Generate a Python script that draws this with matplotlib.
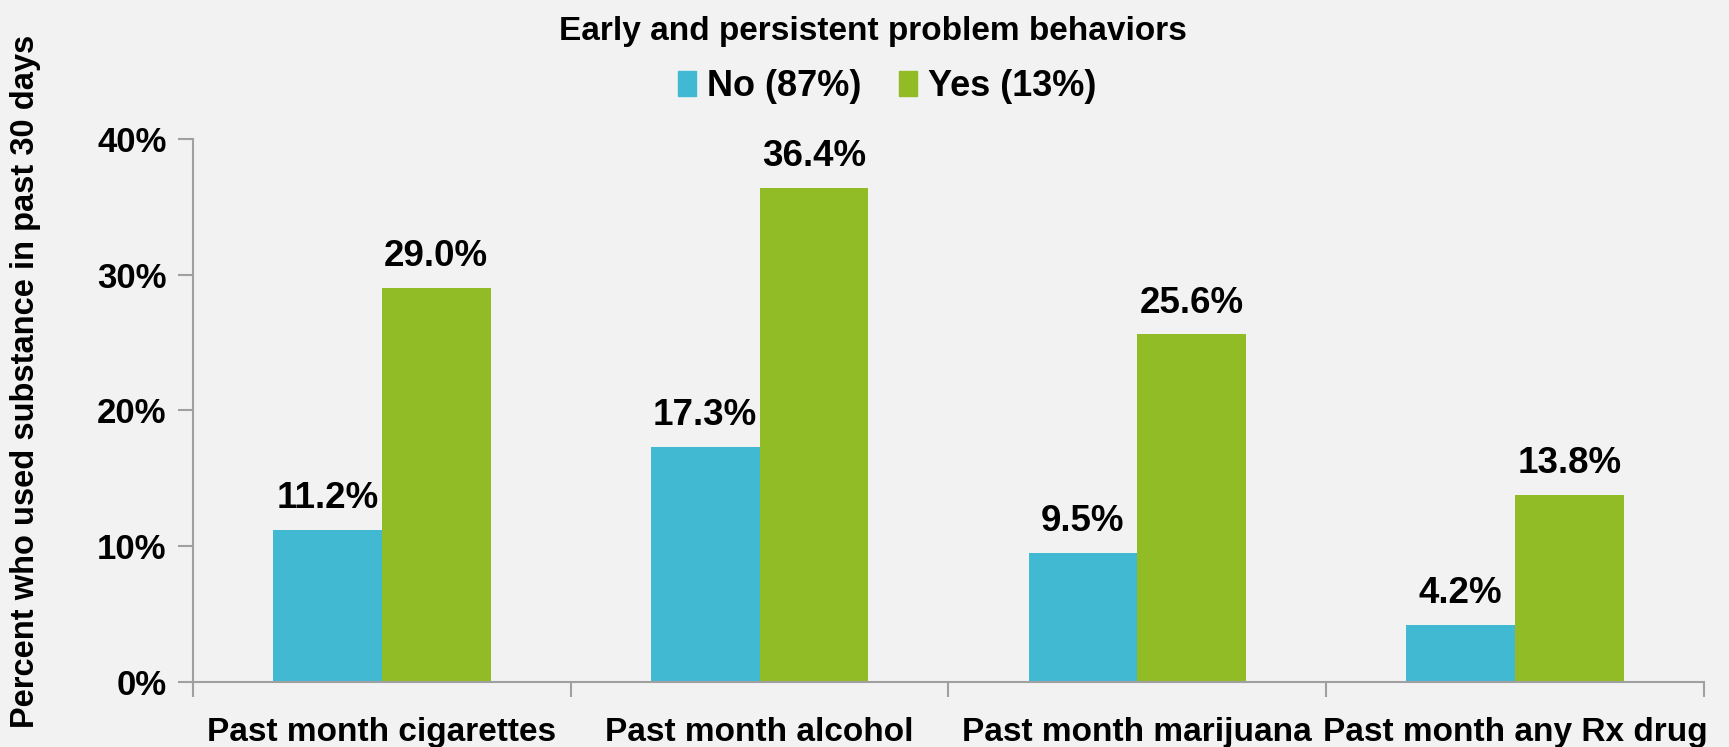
import matplotlib
matplotlib.use("Agg")
import matplotlib.pyplot as plt
import numpy as np
from matplotlib.patches import Patch

categories = ["Past month cigarettes", "Past month alcohol", "Past month marijuana", "Past month any Rx drug"]
no_vals = [11.2, 17.3, 9.5, 4.2]
yes_vals = [29.0, 36.4, 25.6, 13.8]
series_names = ["No (87%)", "Yes (13%)"]
y_ticks = [0, 10, 20, 30, 40]

BG = "#F2F2F2"
BLUE = "#41B9D3"
GREEN = "#92BC26"
AXC = "#A0A0A0"
FONT = "Liberation Sans"

plt.rcParams['font.family'] = [FONT, 'DejaVu Sans']

fig = plt.figure(figsize=(17.29, 7.47), dpi=100, facecolor=BG)
ax = fig.add_axes([0.1116, 0.087, 0.9855 - 0.1116, 0.814 - 0.087], facecolor=BG)

x = np.arange(len(categories))
w = 0.288
b1 = ax.bar(x - w/2, no_vals, w, color=BLUE, label=series_names[0])
b2 = ax.bar(x + w/2, yes_vals, w, color=GREEN, label=series_names[1])

for bars, vals in ((b1, no_vals), (b2, yes_vals)):
    for r, v in zip(bars, vals):
        ax.annotate(f"{v:.1f}%", (r.get_x() + r.get_width()/2, v), xytext=(0, 10),
                    textcoords="offset points", ha="center", va="bottom",
                    fontsize=26.5, fontweight="bold", color="black")

ax.set_xlim(-0.5, len(categories) - 0.5)
ax.set_ylim(0, 40)
ax.set_yticks(y_ticks)
ax.set_yticklabels([f"{t}%" for t in y_ticks])
ax.set_xticks(np.arange(len(categories) + 1) - 0.5)
ax.set_xticklabels([])
ax.set_xticks(x, minor=True)
ax.set_xticklabels(categories, minor=True)
ax.tick_params(axis="x", which="minor", length=0, pad=25, labelsize=24)
ax.tick_params(axis="x", which="major", length=11, width=1.5, color=AXC, direction="out")
ax.tick_params(axis="y", length=11, width=1.5, color=AXC, direction="out", labelsize=25, pad=8)
for lab in ax.get_xticklabels(minor=True) + ax.get_yticklabels():
    lab.set_fontweight("bold")

for s in ("top", "right"):
    ax.spines[s].set_visible(False)
for s in ("left", "bottom"):
    ax.spines[s].set_color(AXC)
    ax.spines[s].set_linewidth(1.5)

fig.text(0.505, 0.958, "Early and persistent problem behaviors", ha="center", va="center",
         fontsize=24, fontweight="bold")
leg = fig.legend(handles=[Patch(color=BLUE), Patch(color=GREEN)], labels=series_names,
                 loc="center", bbox_to_anchor=(0.513, 0.884), ncol=2, frameon=False,
                 prop={"size": 26, "weight": "bold"}, handlelength=0.5, handleheight=0.7,
                 handletextpad=0.3, columnspacing=1.05)

fig.text(0.0145, 0.49, "Percent who used substance in past 30 days", rotation=90,
         ha="center", va="center", fontsize=23.5, fontweight="bold")

fig.savefig("out.png", dpi=100, facecolor=BG)
